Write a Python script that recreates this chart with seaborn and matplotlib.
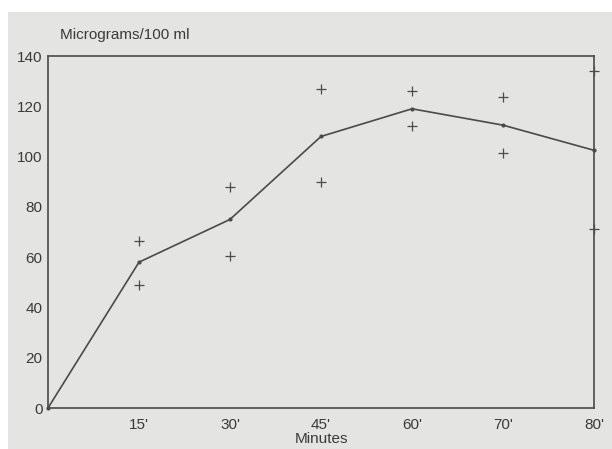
import matplotlib
matplotlib.use("Agg")
import matplotlib.pyplot as plt
import seaborn as sns
import pandas as pd
from matplotlib.patches import Rectangle

# Data
time_labels = ["", "15'", "30'", "45'", "60'", "70'", "80'"]
mean_values = [0, 58, 75, 108, 119, 112.5, 102.5]
upper_values = [None, 66.5, 88, 127, 126, 123.5, 134]
lower_values = [None, 49, 60.5, 90, 112, 101.5, 71]

sns.set_theme(style="white")
plt.rcParams['font.family'] = ['Liberation Sans', 'DejaVu Sans']

pos = list(range(len(time_labels)))
df_mean = pd.DataFrame({"x": pos, "y": mean_values})
pts_x, pts_y = [], []
for i in pos:
    for v in (upper_values[i], lower_values[i]):
        if v is not None:
            pts_x.append(i)
            pts_y.append(v)
df_pts = pd.DataFrame({"x": pts_x, "y": pts_y})

fig = plt.figure(figsize=(6.12, 4.49), dpi=100, facecolor="white")
bg = Rectangle((8/612, 0), 1, (449-12)/449, transform=fig.transFigure,
               facecolor="#e4e4e2", edgecolor="none", zorder=-10)
fig.patches.append(bg)
ax = fig.add_axes([48/612, (449-408)/449, (594-48)/612, (408-56)/449])
ax.set_zorder(1)
ax.set_facecolor("#e4e4e2")

ink = "#4a4a4a"
sns.lineplot(data=df_mean, x="x", y="y", ax=ax, color=ink, linewidth=1.2,
             marker="o", markersize=3, markeredgewidth=0, clip_on=False)
sns.scatterplot(data=df_pts, x="x", y="y", ax=ax, marker="+", s=60,
                color=ink, linewidth=0.9, clip_on=False)

ax.set_xlim(0, 6)
ax.set_ylim(0, 140)
ax.set_xticks(pos)
ax.set_xticklabels(time_labels)
ax.set_yticks(range(0, 141, 20))
ax.tick_params(axis="both", direction="in", length=5, width=1, color=ink,
               labelsize=11, labelcolor="#3a3a3a", pad=4)
ax.tick_params(axis="x", pad=7)
for s in ax.spines.values():
    s.set_color(ink)
    s.set_linewidth(1.2)
ax.set_xlabel("Minutes", fontsize=11, color="#3a3a3a", labelpad=0)
ax.set_ylabel("")
ax.grid(False)

fig.text(60/612, 1 - 35/449, "Micrograms/100 ml", fontsize=11, color="#3a3a3a",
         ha="left", va="center")

fig.savefig("out.png", dpi=100, facecolor="white")
